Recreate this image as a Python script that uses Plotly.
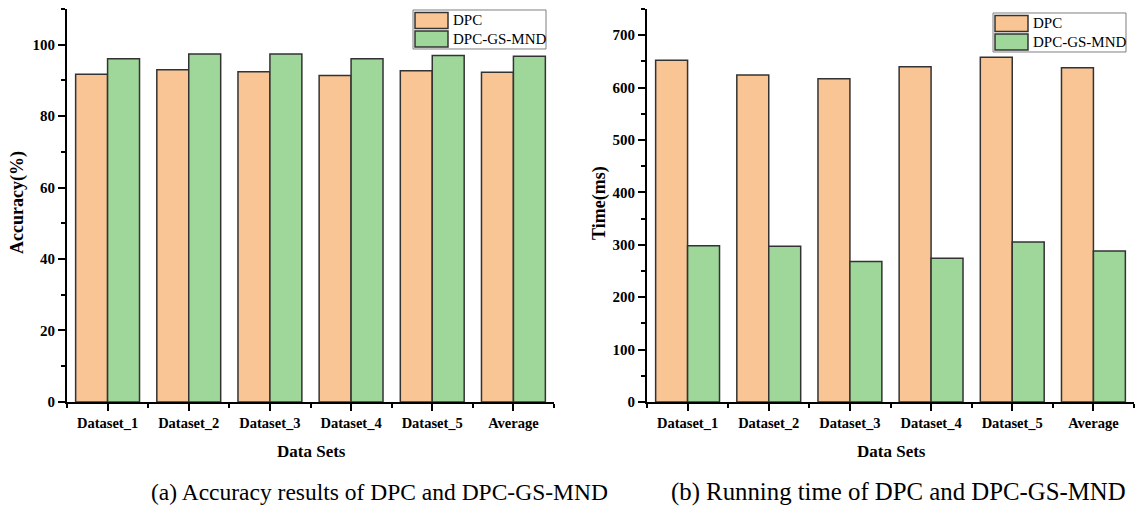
import plotly.graph_objects as go

# ---- data ----
categories = ["Dataset_1", "Dataset_2", "Dataset_3", "Dataset_4", "Dataset_5", "Average"]
series_names = ["DPC", "DPC-GS-MND"]
accuracy_dpc = [91.7, 93.0, 92.4, 91.4, 92.7, 92.3]
accuracy_gsmnd = [96.1, 97.4, 97.4, 96.1, 97.0, 96.8]
time_dpc = [652, 624, 617, 640, 658, 638]
time_gsmnd = [298, 297, 268, 274, 305, 288]
captions = ["(a) Accuracy results of DPC and DPC-GS-MND",
            "(b) Running time of DPC and DPC-GS-MND"]

# ---- styling ----
W, H = 1141, 506
VSCALE = 514 / 506  # page is rendered slightly taller than the figure
ORANGE = "#F9C594"
GREEN = "#9FD79B"
EDGE = "#333333"
SERIF = "Liberation Serif, Times New Roman, serif"
positions = list(range(len(categories)))


def px_x(x):
    return x / W


def px_y(y):
    return 1 - (y * VSCALE) / H


left_dom = [px_x(67), px_x(554)]
right_dom = [px_x(647), px_x(1134)]
y_dom = [px_y(402), px_y(9)]

fig = go.Figure()

panels = [
    ("x", "y", accuracy_dpc, accuracy_gsmnd),
    ("x2", "y2", time_dpc, time_gsmnd),
]
for xa, ya, s1, s2 in panels:
    for name, vals, col in zip(series_names, [s1, s2], [ORANGE, GREEN]):
        fig.add_trace(go.Bar(
            x=positions, y=vals, name=name, xaxis=xa, yaxis=ya,
            marker=dict(color=col, line=dict(color=EDGE, width=1.5)),
            showlegend=False,
        ))

tick_font = dict(family=SERIF, size=15, color="black", weight="bold")


def x_axis(domain, anchor):
    return dict(
        domain=domain, anchor=anchor, range=[-0.5, len(categories) - 0.5],
        tickmode="array", tickvals=positions, ticktext=categories,
        ticks="outside", ticklen=7, tickwidth=2, tickcolor="black",
        minor=dict(tickmode="linear", tick0=0.5, dtick=1, ticks="outside",
                   ticklen=4, tickwidth=2, tickcolor="black"),
        showline=True, linecolor="black", linewidth=2,
        showgrid=False, zeroline=False, tickfont=dict(tick_font, size=14.5),
    )


def y_axis(domain, anchor, top, step):
    return dict(
        domain=domain, anchor=anchor, range=[0, top],
        tickmode="linear", tick0=0, dtick=step,
        ticks="outside", ticklen=7, tickwidth=2, tickcolor="black",
        minor=dict(tickmode="linear", tick0=0, dtick=step / 2, ticks="outside",
                   ticklen=4, tickwidth=2, tickcolor="black"),
        showline=True, linecolor="black", linewidth=2,
        showgrid=False, zeroline=False, tickfont=tick_font,
    )


shapes = []
annotations = []

# legends drawn as boxed swatches
for x0, y0 in [(413, 10), (993, 13)]:
    shapes.append(dict(type="rect", xref="paper", yref="paper",
                       x0=px_x(x0), x1=px_x(x0 + 133), y0=px_y(y0 + 39), y1=px_y(y0),
                       line=dict(color="#7f7f7f", width=1), fillcolor="white"))
    for i, (name, col) in enumerate(zip(series_names, [ORANGE, GREEN])):
        top = y0 + 2.5 + i * 18.5
        shapes.append(dict(type="rect", xref="paper", yref="paper",
                           x0=px_x(x0 + 2), x1=px_x(x0 + 35),
                           y0=px_y(top + 16), y1=px_y(top),
                           line=dict(color=EDGE, width=1.5), fillcolor=col))
        annotations.append(dict(text=name, xref="paper", yref="paper",
                                x=px_x(x0 + 38), y=px_y(top + 8),
                                xanchor="left", yanchor="middle", showarrow=False,
                                font=dict(family=SERIF, size=15, color="black")))

# axis titles
for text, xc in [("Data Sets", 311), ("Data Sets", 891)]:
    annotations.append(dict(text=text, xref="paper", yref="paper",
                            x=px_x(xc), y=px_y(452), xanchor="center", yanchor="middle",
                            showarrow=False,
                            font=dict(family=SERIF, size=17, color="black", weight="bold")))
for text, xc in [("Accuracy(%)", 18), ("Time(ms)", 600)]:
    annotations.append(dict(text=text, xref="paper", yref="paper",
                            x=px_x(xc), y=px_y(203), xanchor="center", yanchor="middle",
                            textangle=-90, showarrow=False,
                            font=dict(family=SERIF, size=18, color="black", weight="bold")))

# panel captions
for text, xc, size in zip(captions, [379, 898], [23.5, 24.8]):
    annotations.append(dict(text=text, xref="paper", yref="paper",
                            x=px_x(xc), y=px_y(492), xanchor="center", yanchor="middle",
                            showarrow=False,
                            font=dict(family=SERIF, size=size, color="black")))

fig.update_layout(
    width=W, height=H,
    margin=dict(l=0, r=0, t=0, b=0),
    paper_bgcolor="white", plot_bgcolor="white",
    barmode="group", bargap=0.213, bargroupgap=0,
    xaxis=x_axis(left_dom, "y"),
    yaxis=y_axis(y_dom, "x", 110, 20),
    xaxis2=x_axis(right_dom, "y2"),
    yaxis2=y_axis(y_dom, "x2", 750, 100),
    shapes=shapes,
    annotations=annotations,
)

fig.write_html("out.html")
